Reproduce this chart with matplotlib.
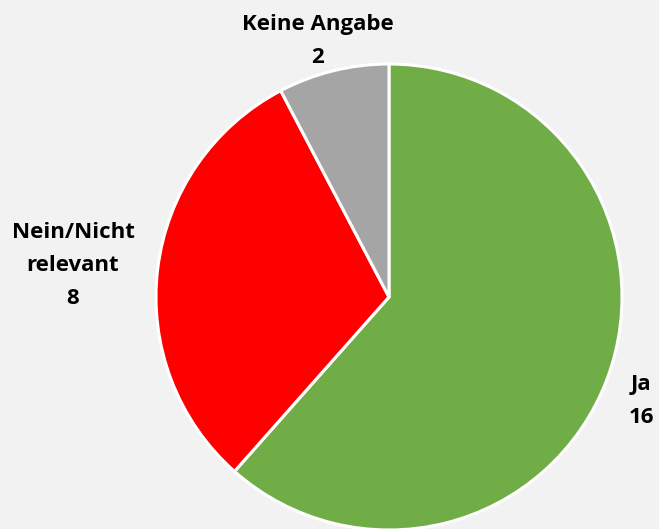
import matplotlib.pyplot as plt

# Answer counts
labels = ["Ja", "Nein/Nicht\nrelevant", "Keine Angabe"]
values = [16, 8, 2]
colors = ["#70AD47", "#FF0000", "#A5A5A5"]

# Label anchors: centre x and first baseline, in pixels from top-left
label_px = [(641, 390), (73, 238), (318, 30)]
line_gap = 33

W, H = 659, 529
cx, cy, r = 389, 297, 233
bg = "#F2F2F2"

fig = plt.figure(figsize=(W / 100, H / 100), dpi=100, facecolor=bg)
ax = fig.add_axes([(cx - r) / W, (H - cy - r) / H, 2 * r / W, 2 * r / H])

ax.pie(values, colors=colors, startangle=90, counterclock=False,
       radius=1, wedgeprops=dict(edgecolor="white", linewidth=2.2))

for lab, val, (px, py) in zip(labels, values, label_px):
    lines = lab.split("\n") + [str(val)]
    for i, line in enumerate(lines):
        x = (px - cx) / r
        y = (cy - (py + i * line_gap)) / r
        ax.text(x, y, line, ha="center", va="baseline",
                fontsize=16, fontweight="bold", family=["Open Sans", "DejaVu Sans"],
                color="#000000", clip_on=False)

ax.set_xlim(-1, 1)
ax.set_ylim(-1, 1)
ax.set_aspect("equal")
ax.axis("off")

fig.savefig("out.png", dpi=100, facecolor=bg)
